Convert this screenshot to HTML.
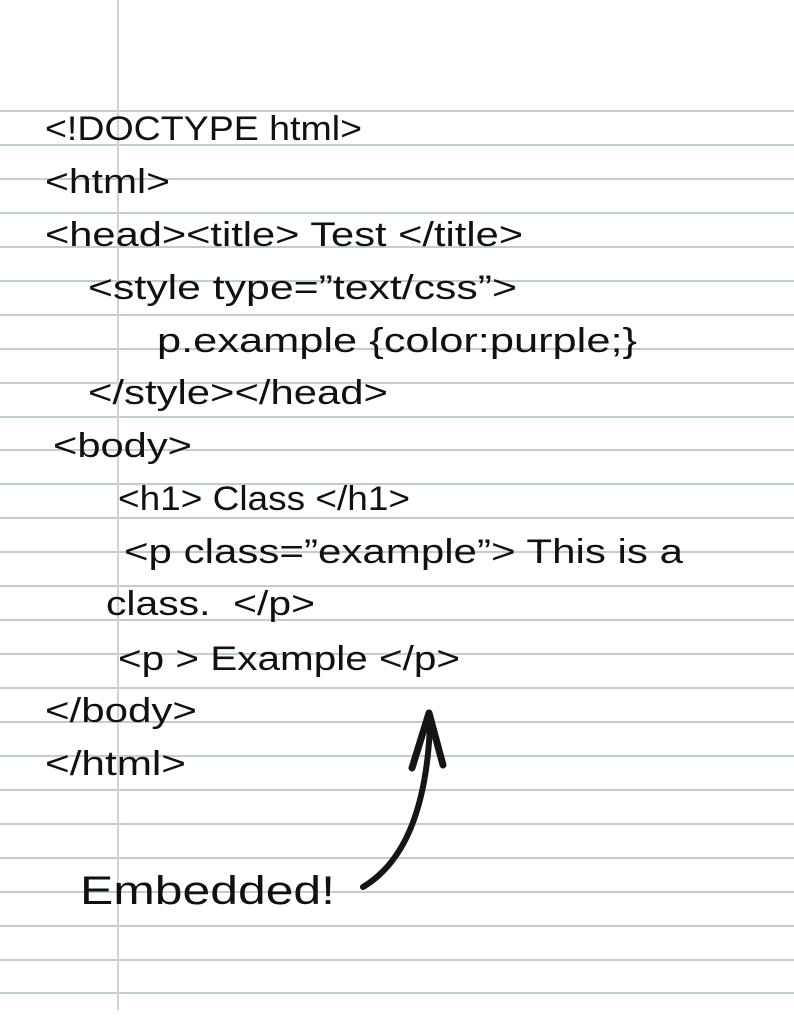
<!DOCTYPE html>
<html><head><style>
body{margin:0;width:794px;height:1028px;background:#fff;position:relative;overflow:hidden;font-family:"Liberation Sans",sans-serif;}
.l{position:absolute;left:0;width:794px;height:2px;background:#bccfd5;}
.m{position:absolute;left:117px;top:0;width:2px;height:1010px;background:#e2c9d3;}
.t{position:absolute;font-size:34px;color:#111;white-space:pre;line-height:1;transform-origin:0 0;}
</style></head><body>
<div id="lines"></div>
<div class="m"></div>
<div class="t" style="left:45px;top:112px">&lt;!DOCTYPE html&gt;</div>
<div class="t" style="left:45px;top:165px">&lt;html&gt;</div>
<div class="t" style="left:45px;top:218px">&lt;head&gt;&lt;title&gt; Test &lt;/title&gt;</div>
<div class="t" style="left:88px;top:271px">&lt;style type=”text/css”&gt;</div>
<div class="t" style="left:157px;top:324px">p.example {color:purple;}</div>
<div class="t" style="left:88px;top:376px">&lt;/style&gt;&lt;/head&gt;</div>
<div class="t" style="left:53px;top:429px">&lt;body&gt;</div>
<div class="t" style="left:118px;top:482px">&lt;h1&gt; Class &lt;/h1&gt;</div>
<div class="t" style="left:124px;top:535px">&lt;p class=”example”&gt; This is a</div>
<div class="t" style="left:106px;top:587px">class.  &lt;/p&gt;</div>
<div class="t" style="left:118px;top:642px">&lt;p &gt; Example &lt;/p&gt;</div>
<div class="t" style="left:45px;top:694px">&lt;/body&gt;</div>
<div class="t" style="left:45px;top:747px">&lt;/html&gt;</div>
<div class="t" style="left:80px;top:871px;font-size:40px">Embedded!</div>
<svg width="794" height="1028" style="position:absolute;left:0;top:0">
<path d="M363 887 Q425 850 430 725" stroke="#151515" stroke-width="6" fill="none" stroke-linecap="round"/>
<path d="M429 713 L412 768 M429 713 L443 765" stroke="#151515" stroke-width="7" fill="none" stroke-linecap="round"/>
</svg>
<script>
var h='';for(var i=0;i<27;i++){h+='<div class="l" style="top:'+(110+i*33.94).toFixed(1)+'px"></div>';}
document.getElementById('lines').innerHTML=h;
var ends=[362,170,523,517,637,388,192,410,683,315,460,197,186,335];
var ts=document.querySelectorAll('.t');
for(var j=0;j<ts.length;j++){var e=ts[j];var w=e.getBoundingClientRect().width;var target=ends[j]-parseFloat(e.style.left);e.style.transform='scaleX('+(target/w)+')';}
</script>
</body></html>
